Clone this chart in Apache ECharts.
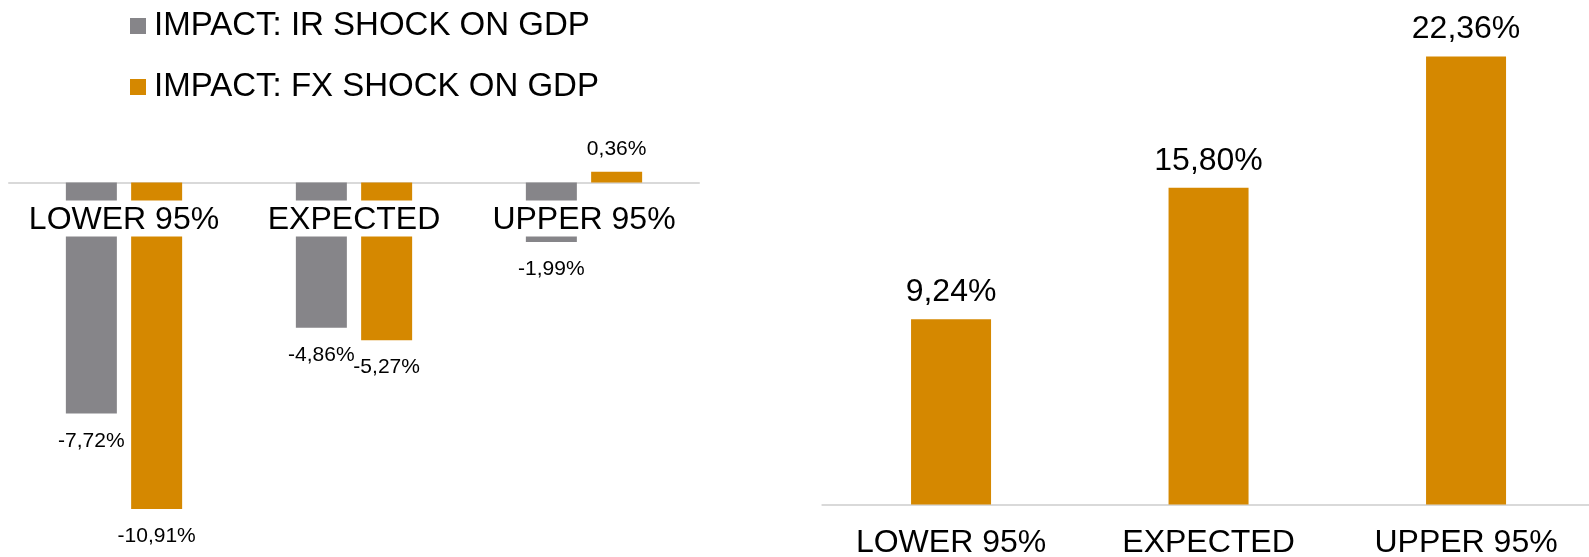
<!DOCTYPE html>
<html>
<head>
<meta charset="utf-8">
<title>GDP shock impact</title>
<script src="https://cdn.jsdelivr.net/npm/echarts@6/dist/echarts.min.js"></script>
<style>
  html, body { margin: 0; padding: 0; background: #ffffff; }
  #chart { width: 1589px; height: 557px; }
</style>
</head>
<body>
<div id="chart"></div>
<script>
// Scenario categories shared by both panels
const categories = ['LOWER 95%', 'EXPECTED', 'UPPER 95%'];

// Left panel: impact of each shock on GDP (%)
const irShockOnGdp = [-7.72, -4.86, -1.99];
const fxShockOnGdp = [-10.91, -5.27, 0.36];

// Right panel: overall GDP figure per scenario (%)
const gdpTotal = [9.24, 15.80, 22.36];

const legendNames = ['IMPACT: IR SHOCK ON GDP', 'IMPACT: FX SHOCK ON GDP'];

const GREY = '#868589';
const ORANGE = '#D58800';
const FONT = '"Liberation Sans", Arial, sans-serif';

function pct(v) {
  return v.toFixed(2).replace('.', ',') + '%';
}

// Negative bars carry their label under the bar end, positive ones above it
function withLabelSide(values, distPos, distNeg) {
  return values.map(v => ({
    value: v,
    label: { position: v < 0 ? 'bottom' : 'top', distance: v < 0 ? distNeg : distPos }
  }));
}

const chart = echarts.init(document.getElementById('chart'), null, { renderer: 'canvas' });

// Left panel geometry: zero line sits at y = 182.4
const LEFT_X = 9, LEFT_W = 690, ZERO_Y = 182.4;

const option = {
  animation: false,
  backgroundColor: '#ffffff',
  textStyle: { fontFamily: FONT },
  legend: {
    data: legendNames,
    orient: 'vertical',
    left: 130,
    top: 9,
    padding: 0,
    itemWidth: 16,
    itemHeight: 16,
    itemGap: 27,
    icon: 'rect',
    textStyle: { fontFamily: FONT, fontSize: 33, lineHeight: 34, color: '#000', padding: [0, 0, 0, 3] }
  },
  grid: [
    { left: LEFT_X, width: LEFT_W, top: 122.6, height: 418.9, outerBoundsMode: 'none', containLabel: false },
    { left: 822.3, width: 772.5, top: 3.5, height: 501, outerBoundsMode: 'none', containLabel: false },
    // strip whose bottom edge is the left zero line; carries the scenario labels
    { left: LEFT_X, width: LEFT_W, top: ZERO_Y - 10, height: 10, outerBoundsMode: 'none', containLabel: false }
  ],
  xAxis: [
    {
      type: 'category',
      gridIndex: 0,
      data: categories,
      axisTick: { show: false },
      axisLine: { onZero: true, lineStyle: { color: '#d9d9d9', width: 2 } },
      axisLabel: { show: false },
      splitLine: { show: false }
    },
    {
      type: 'category',
      gridIndex: 1,
      data: categories,
      axisTick: { show: false },
      axisLine: { lineStyle: { color: '#d9d9d9', width: 2 } },
      axisLabel: {
        interval: 0,
        fontFamily: FONT,
        fontSize: 32,
        lineHeight: 36,
        color: '#000',
        margin: 21
      },
      splitLine: { show: false }
    },
    {
      type: 'category',
      gridIndex: 2,
      data: categories,
      z: 5,
      axisTick: { show: false },
      axisLine: { show: false },
      axisLabel: {
        interval: 0,
        fontFamily: FONT,
        fontSize: 32,
        lineHeight: 33,
        padding: [3, 0, 0, 0],
        color: '#000',
        margin: 18,
        backgroundColor: '#ffffff'
      },
      splitLine: { show: false }
    }
  ],
  yAxis: [
    { type: 'value', gridIndex: 0, min: -12, max: 2, show: false, splitLine: { show: false } },
    { type: 'value', gridIndex: 1, min: 0, max: 25, show: false, splitLine: { show: false } },
    { type: 'value', gridIndex: 2, min: 0, max: 1, show: false, splitLine: { show: false } }
  ],
  series: [
    {
      name: legendNames[0],
      type: 'bar',
      xAxisIndex: 0,
      yAxisIndex: 0,
      barWidth: 51,
      barGap: '28%',
      itemStyle: { color: GREY },
      label: {
        show: true,
        fontFamily: FONT,
        fontSize: 21,
        color: '#000',
        formatter: p => pct(p.value)
      },
      data: withLabelSide(irShockOnGdp, 12, 17)
    },
    {
      name: legendNames[1],
      type: 'bar',
      xAxisIndex: 0,
      yAxisIndex: 0,
      barWidth: 51,
      barGap: '28%',
      itemStyle: { color: ORANGE },
      label: {
        show: true,
        fontFamily: FONT,
        fontSize: 21,
        color: '#000',
        formatter: p => pct(p.value)
      },
      data: withLabelSide(fxShockOnGdp, 12, 17)
    },
    {
      name: 'GDP',
      type: 'bar',
      xAxisIndex: 1,
      yAxisIndex: 1,
      barWidth: 80,
      itemStyle: { color: ORANGE },
      label: {
        show: true,
        position: 'top',
        distance: 11,
        fontFamily: FONT,
        fontSize: 32,
        color: '#000',
        formatter: p => pct(p.value)
      },
      data: gdpTotal
    }
  ]
};

chart.setOption(option);
</script>
</body>
</html>
